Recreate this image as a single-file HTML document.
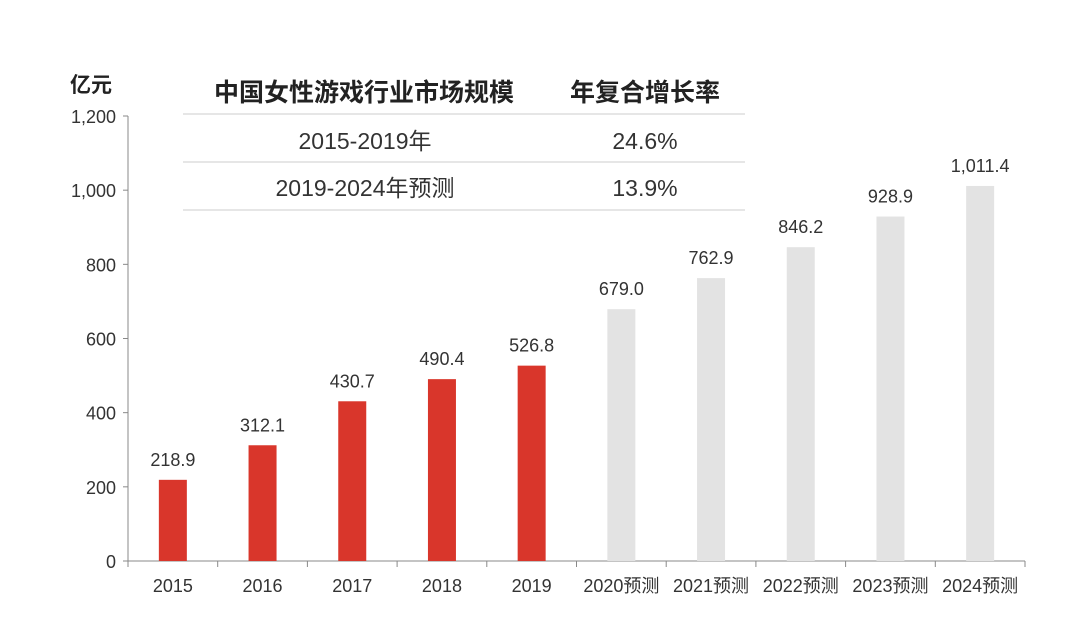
<!DOCTYPE html>
<html><head><meta charset="utf-8"><style>
body{margin:0;background:#fff;}
svg text{font-family:"Liberation Sans","Noto Sans CJK SC",sans-serif;}
</style></head><body>
<svg id="chart" width="1080" height="628" xmlns="http://www.w3.org/2000/svg">
<rect width="1080" height="628" fill="#fff"/>
<text x="70" y="92" font-size="21" font-weight="bold" fill="#222">亿元</text>
<g>
<line x1="183" y1="114" x2="745" y2="114" stroke="#ddd" stroke-width="1.5"/>
<line x1="183" y1="162" x2="745" y2="162" stroke="#ddd" stroke-width="1.5"/>
<line x1="183" y1="210" x2="745" y2="210" stroke="#ddd" stroke-width="1.5"/>
<text x="364" y="101" font-size="25" font-weight="bold" text-anchor="middle" fill="#222">中国女性游戏行业市场规模</text>
<text x="645" y="101" font-size="25" font-weight="bold" text-anchor="middle" fill="#222">年复合增长率</text>
<text x="365" y="149" font-size="23" text-anchor="middle" fill="#333">2015-2019年</text>
<text x="645" y="149" font-size="23" text-anchor="middle" fill="#333">24.6%</text>
<text x="365" y="196" font-size="23" text-anchor="middle" fill="#333">2019-2024年预测</text>
<text x="645" y="196" font-size="23" text-anchor="middle" fill="#333">13.9%</text>
</g>
<g id="axes"></g>
<g id="bars"></g>
</svg>
<script>
const categories=["2015","2016","2017","2018","2019","2020预测","2021预测","2022预测","2023预测","2024预测"];
const values=[218.9,312.1,430.7,490.4,526.8,679.0,762.9,846.2,928.9,1011.4];
const forecast=[false,false,false,false,false,true,true,true,true,true];
const yTicks=[0,200,400,600,800,1000,1200];
const yTickLabels=["0","200","400","600","800","1,000","1,200"];
const valueLabels=["218.9","312.1","430.7","490.4","526.8","679.0","762.9","846.2","928.9","1,011.4"];
const NS="http://www.w3.org/2000/svg";
const x0=128,x1=1025,y0=561,y1=116,yMax=1200;
const band=(x1-x0)/categories.length;
const y=v=>y0-(v/yMax)*(y0-y1);
const xc=i=>x0+band*(i+0.5);
function mk(tag,attrs,parent,text){const e=document.createElementNS(NS,tag);for(const k in attrs)e.setAttribute(k,attrs[k]);if(text!==undefined)e.textContent=text;parent.appendChild(e);return e;}
const ax=document.getElementById('axes'),bg=document.getElementById('bars');
let l=mk('line',{x1:x0,y1:y1,x2:x0,y2:y0,stroke:'#888','stroke-width':1},ax);


l=mk('line',{x1:x0,y1:y0,x2:x1,y2:y0,stroke:'#888','stroke-width':1},ax);


yTicks.forEach((t,i)=>{
 const tk=mk('line',{x1:x0-5,y1:y(t),x2:x0,y2:y(t),stroke:'#888'},ax);
 
 
 const tx=mk('text',{x:x0-12,y:y(t)+7,'font-size':18,'text-anchor':'end',fill:'#333'},ax,yTickLabels[i]);
 
 
});
for(let i=0;i<=categories.length;i++){
 const tk=mk('line',{x1:x0+band*i,y1:y0,x2:x0+band*i,y2:y0+6,stroke:'#888'},ax);
 
 
}
categories.forEach((c,i)=>{
 const tx=mk('text',{x:xc(i),y:592,'font-size':18,'text-anchor':'middle',fill:'#333'},ax,c);
 
 
 const bw=28;
 const r=mk('rect',{x:xc(i)-bw/2,y:y(values[i]),width:bw,height:y0-y(values[i]),fill:forecast[i]?'#e3e3e3':'#d9362b'},bg);
 
 
 const vl=mk('text',{x:xc(i),y:y(values[i])-14,'font-size':18,'text-anchor':'middle',fill:'#333'},bg,valueLabels[i]);
 
 
});
</script>
</body></html>
